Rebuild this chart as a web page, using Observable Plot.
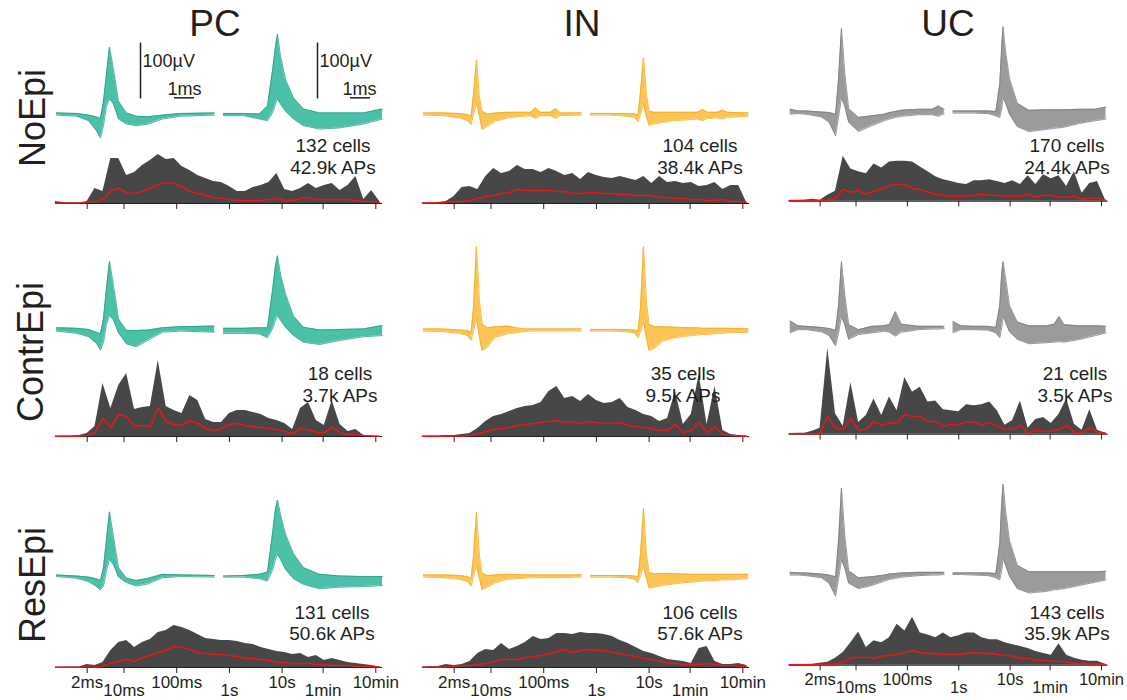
<!DOCTYPE html>
<html><head><meta charset="utf-8">
<script src="https://cdn.jsdelivr.net/npm/d3@7"></script>
<script src="https://cdn.jsdelivr.net/npm/@observablehq/plot@0.6"></script>
<style>
body{margin:0;background:#fff;font-family:"Liberation Sans",Arial,sans-serif}
#root{position:relative;width:1127px;height:700px;overflow:hidden}
.abs{position:absolute}
</style></head><body><div id="root"></div>
<script>
// ---------------- DATA ----------------
const cellTypes = ["PC", "IN", "UC"];
const conditions = ["NoEpi", "ContrEpi", "ResEpi"];
const cellCounts = [[132, 104, 170], [18, 35, 21], [131, 106, 143]];
const apCounts = [["42.9k", "38.4k", "24.4k"], ["3.7k", "9.5k", "3.5k"], ["50.6k", "57.6k", "35.9k"]];

// ISI histogram bins (log10 seconds)
const isiBins = [-3.3, -3.15, -3.0, -2.85, -2.7, -2.55, -2.4, -2.25, -2.1, -1.95, -1.8, -1.65, -1.5, -1.35, -1.2, -1.05, -0.9, -0.75, -0.6, -0.45, -0.3, -0.15, 0, 0.15, 0.3, 0.45, 0.6, 0.75, 0.9, 1.05, 1.2, 1.35, 1.5, 1.65, 1.8, 1.95, 2.1, 2.25, 2.4, 2.55, 2.7, 2.85];
const isiTicks = [0.002, 0.01, 0.1, 1, 10, 60, 600];
const isiTickLabels = ["2ms", "10ms", "100ms", "1s", "10s", "1min", "10min"];
const isiTickLevel = [0, 1, 0, 1, 0, 1, 0];

const isiAll_NoEpi_PC = [2,1,0.5,0.5,2, 15,12,45,45,28, 31,38,43,49,44, 45,37,33,28,25, 22,21,17,12,12, 16,18,21,30,14, 12,15,20,15,18, 20,13,18,27,4, 13,2];
const isiRed_NoEpi_PC = [0.5,0.5,0.5,0.5,1, 2,4,13,15,11, 10,12,15,19,21, 20,17,12,10,8, 6,5,4,3,3, 3,3,4,5,3, 3,5,6,4,4, 4,4,4,3,2, 2,1];
const isiAll_NoEpi_IN = [0.5,0.5,1,2,7, 16,17,14,27,35, 30,32,38,34,34, 31,35,32,28,30, 24,31,28,26,25, 27,25,23,27,20, 27,21,22,20,21, 17,18,21,14,18, 18,1];
const isiRed_NoEpi_IN = [0.5,0.5,0.5,1,2, 2,3,5,7,8, 10,11,14,13,13, 13,13,12,12,10, 10,11,11,10,10, 9,9,8,8,8, 6,6,5,5,4, 4,3,3,4,2, 2,1];
const isiAll_NoEpi_UC = [0.5,0.5,1,2,1, 6,10,46,33,30, 28,38,34,40,41, 41,40,35,30,25, 22,20,18,17,21, 21,22,20,18,21, 17,26,17,27,23, 26,15,30,8,18, 20,2];
const isiRed_NoEpi_UC = [0.5,0.5,0.5,0.5,0.5, 1,3,12,9,11, 7,10,13,16,17, 17,13,12,9,7, 6,5,5,5,6, 7,6,6,5,5, 5,7,4,6,6, 4,4,5,2,3, 3,1];
const isiAll_ContrEpi_PC = [0.3,0.5,0.5,1,3, 10,53,28,51,63, 27,29,30,76,30, 26,23,41,36,17, 14,14,23,26,26, 24,22,18,16,13, 7,28,34,16,11, 36,12,5,7,1, 0.5,0.3];
const isiRed_ContrEpi_PC = [0.3,0.3,0.3,0.3,1, 4,18,9,22,20, 10,11,10,29,15, 12,11,16,13,8, 6,8,12,13,11, 10,9,8,7,5, 3,8,7,4,4, 9,4,2,2,1, 0.5,0.3];
const isiAll_ContrEpi_IN = [0.3,0.5,0.5,1,1, 2,3,8,15,20, 22,25,28,30,31, 34,45,50,38,40, 35,42,36,33,34, 38,29,26,22,20, 15,18,45,12,22, 62,12,50,6,2, 1,0.5];
const isiRed_ContrEpi_IN = [0.3,0.3,0.3,0.3,0.5, 0.5,1,3,5,7, 8,9,11,12,13, 14,15,16,14,15, 13,15,14,13,13, 14,11,10,9,8, 6,6,12,4,6, 14,4,10,2,1, 0.5,0.3];
const isiAll_ContrEpi_UC = [0.5,1,1,3,6, 88,21,8,53,12, 19,36,19,38,24, 58,43,48,33,34, 25,24,23,30,29, 30,33,24,9,14, 34,6,15,17,11, 20,36,10,4,25, 4,1];
const isiRed_ContrEpi_UC = [0.3,0.3,0.3,0.5,1, 18,6,5,16,4, 5,13,9,11,12, 20,18,18,13,13, 8,10,9,13,12, 9,12,8,5,5, 9,1,4,3,3, 5,9,2,1,7, 2,1];
const isiAll_ResEpi_PC = [0.3,0.5,0.5,0.5,3, 2,5,17,25,27, 20,25,28,35,37, 42,40,37,33,29, 28,27,27,26,24, 23,20,18,16,15, 13,14,10,12,7, 9,7,5,4,3, 2,0.5];
const isiRed_ResEpi_PC = [0.3,0.3,0.3,0.3,0.5, 0.5,1,4,6,8, 6,10,12,15,17, 21,20,18,15,14, 13,13,12,11,9, 9,8,7,5,5, 4,4,4,3,3, 2,2,2,1,1, 1,0.5];
const isiAll_ResEpi_IN = [0.5,1,1,3,2, 3,6,14,18,17, 24,18,21,25,31, 28,29,34,34,33, 35,34,34,33,31, 27,24,20,16,14, 11,8,7,6,4, 19,21,6,3,3, 4,2];
const isiRed_ResEpi_IN = [0.3,0.3,0.3,0.5,1, 2,2,3,4,6, 8,8,8,10,11, 12,14,16,18,15, 17,18,17,17,15, 14,12,11,9,8, 6,5,4,3,3, 3,4,3,2,2, 1,1];
const isiAll_ResEpi_UC = [0.3,0.5,0.5,1,2, 3,7,13,23,34, 18,25,23,28,42, 35,49,33,31,28, 33,28,30,33,33, 28,26,26,23,21, 19,17,14,12,10, 22,10,7,5,4, 4,1];
const isiRed_ResEpi_UC = [0.3,0.3,0.3,0.3,0.3, 0.5,1,3,7,8, 8,7,9,10,11, 13,15,13,12,12, 11,11,11,12,13, 12,12,11,10,9, 7,7,5,5,4, 4,3,2,2,1, 1,0.5];

// Waveform envelopes (ms, µV): channel A (left) and channel B (right)
const channelBOffset = 8.35; // ms
const wfTimeA_PC = [0, 1.0, 1.6, 2.0, 2.2, 2.35, 2.5, 2.65, 2.85, 3.1, 3.5, 4.0, 4.6, 5.3, 6.2, 7.9];
const wfTimeB_PC = [0, 1.0, 1.8, 2.2, 2.45, 2.6, 2.7, 2.85, 3.1, 3.5, 4.0, 4.8, 5.8, 7.0, 7.95];
const wfTimeA_IN = [0, 1.0, 1.8, 2.2, 2.38, 2.5, 2.65, 2.8, 2.93, 3.2, 3.6, 4.2, 5.0, 5.35, 5.6, 5.85, 6.35, 6.6, 6.85, 7.9];
const wfTimeB_IN = [0, 1.0, 1.8, 2.2, 2.38, 2.5, 2.65, 2.8, 2.93, 3.2, 3.6, 4.2, 5.0, 5.35, 5.6, 5.85, 6.35, 6.6, 6.85, 7.9];
const wfTimeA_UC = [0, 0.4, 0.8, 1.6, 2.0, 2.33, 2.48, 2.63, 2.8, 3.0, 3.5, 4.2, 4.83, 5.1, 5.4, 5.7, 6.6, 7.3, 7.6, 7.9];
const wfTimeB_UC = [0, 0.4, 1.0, 1.8, 2.2, 2.4, 2.5, 2.57, 2.7, 2.9, 3.3, 3.9, 4.8, 5.2, 5.45, 5.7, 6.5, 7.3, 7.85];

const wfHiA_NoEpi_PC = [2, 1, -2, -5, -8, 23, 71, 120, 80, 23, 2, -4, -5, -2, 1, 2];
const wfLoA_NoEpi_PC = [-2, -4, -12, -30, -43, -21, 14, 27, 18, -9, -18, -21, -18, -9, -4, -2];
const wfHiB_NoEpi_PC = [1, 1, 0, 14, 77, 121, 143, 104, 62, 29, 9, 2, 2, 2, 9];
const wfLoB_NoEpi_PC = [-3, -3, -9, -12, 2, 18, 27, 18, 5, -9, -21, -27, -25, -18, -9];
const wfHiA_ContrEpi_PC = [4, 3, 1, -4, -7, 20, 75, 123, 80, 20, -1, -1, 0, 4, 6, 7];
const wfLoA_ContrEpi_PC = [-2, -6, -12, -24, -36, -22, 10, 26, 18, -5, -25, -30, -18, -4, -2, -4];
const wfHiB_ContrEpi_PC = [3, 3, 4, 4, 70, 115, 133, 100, 65, 25, 5, 0, 1, 2, 8];
const wfLoB_ContrEpi_PC = [-6, -6, -7, -14, 2, 18, 26, 18, 5, -10, -22, -26, -19, -12, -10];
const wfHiA_ResEpi_PC = [2, 0, -2, -5, -8, 15, 65, 115, 70, 15, -4, -8, -4, 3, 2, 1];
const wfLoA_ResEpi_PC = [-1, -4, -10, -19, -25, -18, 10, 30, 20, -2, -12, -18, -14, -3, -1, -2];
const wfHiB_ResEpi_PC = [0, 1, 3, 7, 75, 120, 136, 110, 75, 40, 15, 3, 0, -1, -1];
const wfLoB_ResEpi_PC = [-2, -2, -5, -9, 10, 30, 39, 30, 12, -5, -15, -23, -20, -19, -17];

const wfHiA_NoEpi_IN = [2, 2, 1, -1, -4, 35, 97, 29, 5, 0, 2, 3, 3, 3, 11, 3, 3, 10, 2, 2];
const wfLoA_NoEpi_IN = [-2, -3, -7, -12, -19, -1, 20, -4, -28, -22, -13, -7, -4, -3, -8, -3, -3, -8, -3, -2];
const wfHiB_NoEpi_IN = [1, 1, 1, 0, -2, 40, 101, 35, 5, 3, 3, 3, 3, 3, 8, 3, 3, 7, 3, 2];
const wfLoB_NoEpi_IN = [-2, -2, -4, -6, -14, 0, 18, -5, -20, -18, -15, -12, -10, -9, -12, -8, -7, -9, -6, -4];
const wfHiA_ContrEpi_IN = [2, 2, 0, -1, -4, 40, 150, 52, 11, 4, 6, 7, 2, 2, 2, 2, 2, 2, 2, 2];
const wfLoA_ContrEpi_IN = [-2, -3, -6, -10, -18, -1, 20, -13, -37, -31, -13, -7, -3, -2, -2, -2, -2, -2, -2, -2];
const wfHiB_ContrEpi_IN = [1, 1, 1, 0, -2, 40, 150, 50, 10, 6, 6, 5, 4, 4, 3, 3, 3, 3, 3, 2];
const wfLoB_ContrEpi_IN = [-2, -2, -3, -5, -14, -4, 15, -15, -37, -33, -20, -14, -10, -9, -8, -8, -6, -6, -5, -4];
const wfHiA_ResEpi_IN = [2, 2, 1, -1, -4, 35, 114, 35, 5, 1, 2, 3, 2, 2, 2, 2, 2, 2, 2, 2];
const wfLoA_ResEpi_IN = [-2, -3, -6, -10, -18, -1, 18, -5, -25, -20, -12, -6, -4, -3, -3, -3, -3, -3, -3, -2];
const wfHiB_ResEpi_IN = [1, 1, 1, 0, -2, 40, 121, 40, 6, 4, 4, 4, 3, 3, 3, 3, 3, 3, 3, 3];
const wfLoB_ResEpi_IN = [-2, -2, -3, -6, -12, 0, 18, -5, -22, -20, -17, -14, -11, -10, -9, -9, -8, -7, -7, -5];

const wfHiA_NoEpi_UC = [4, 1, 1, -1, -2, -5, 60, 153, 70, 5, -11, -8, -5, -2, 0, 2, 4, 4, 10, 4];
const wfLoA_NoEpi_UC = [-5, -4, -5, -10, -20, -45, -10, 25, 10, -20, -37, -26, -17, -14, -11, -9, -6, -6, -9, -4];
const wfHiB_NoEpi_UC = [1, 1, 1, 1, 0, 50, 120, 156, 110, 60, 15, 2, 3, 3, 3, 3, 4, 4, 8];
const wfLoB_NoEpi_UC = [-3, -3, -3, -4, -8, -11, 5, 25, 15, -5, -28, -37, -33, -31, -30, -29, -22, -17, -14];
const wfHiA_ContrEpi_UC = [12, 3, 2, 0, -2, -5, 40, 121, 60, 5, -4, 2, 3, 6, 29, 6, 2, 2, 2, 2];
const wfLoA_ContrEpi_UC = [-10, -4, -4, -8, -15, -34, -10, 20, 5, -22, -13, -10, -7, -9, -16, -9, -4, -3, -3, -2];
const wfHiB_ContrEpi_UC = [11, 3, 2, 2, 0, 40, 100, 121, 90, 40, 10, 3, 3, 6, 20, 5, 3, 3, 2];
const wfLoB_ContrEpi_UC = [-10, -4, -4, -5, -10, -19, 0, 20, 10, -8, -22, -30, -28, -27, -26, -27, -22, -15, -10];
const wfHiA_ResEpi_UC = [2, 1, 1, -1, -3, -6, 60, 157, 70, 5, -8, -6, -3, -1, 0, 1, 2, 2, 2, 2];
const wfLoA_ResEpi_UC = [-3, -3, -4, -8, -18, -42, -10, 25, 10, -18, -28, -22, -14, -11, -9, -7, -4, -3, -3, -2];
const wfHiB_ResEpi_UC = [1, 1, 1, 1, 0, 55, 130, 164, 115, 60, 15, 3, 3, 3, 3, 3, 3, 3, 4];
const wfLoB_ResEpi_UC = [-2, -2, -3, -4, -8, -12, 5, 28, 15, -5, -28, -36, -33, -30, -29, -28, -22, -16, -12];

// scale bars (PC / NoEpi): vertical 100 µV, horizontal 1 ms
const scaleBars = [
  {t: 4.2, v0: 27, v1: 127, h0: 5.9, h1: 6.9, hv: 29, labelT: 4.3, labelV: 95, msT: 7.25, msV: 45},
  {t: 13.05, v0: 27, v1: 127, h0: 14.7, h1: 15.7, hv: 29, labelT: 13.15, labelV: 95, msT: 16.0, msV: 45}
];

// ---------------- TABLES ----------------
const isiTable = {
  NoEpi: {PC: [isiAll_NoEpi_PC, isiRed_NoEpi_PC], IN: [isiAll_NoEpi_IN, isiRed_NoEpi_IN], UC: [isiAll_NoEpi_UC, isiRed_NoEpi_UC]},
  ContrEpi: {PC: [isiAll_ContrEpi_PC, isiRed_ContrEpi_PC], IN: [isiAll_ContrEpi_IN, isiRed_ContrEpi_IN], UC: [isiAll_ContrEpi_UC, isiRed_ContrEpi_UC]},
  ResEpi: {PC: [isiAll_ResEpi_PC, isiRed_ResEpi_PC], IN: [isiAll_ResEpi_IN, isiRed_ResEpi_IN], UC: [isiAll_ResEpi_UC, isiRed_ResEpi_UC]}
};
const wfTime = {PC: [wfTimeA_PC, wfTimeB_PC], IN: [wfTimeA_IN, wfTimeB_IN], UC: [wfTimeA_UC, wfTimeB_UC]};
const wfTable = {
  NoEpi: {PC: [wfHiA_NoEpi_PC, wfLoA_NoEpi_PC, wfHiB_NoEpi_PC, wfLoB_NoEpi_PC], IN: [wfHiA_NoEpi_IN, wfLoA_NoEpi_IN, wfHiB_NoEpi_IN, wfLoB_NoEpi_IN], UC: [wfHiA_NoEpi_UC, wfLoA_NoEpi_UC, wfHiB_NoEpi_UC, wfLoB_NoEpi_UC]},
  ContrEpi: {PC: [wfHiA_ContrEpi_PC, wfLoA_ContrEpi_PC, wfHiB_ContrEpi_PC, wfLoB_ContrEpi_PC], IN: [wfHiA_ContrEpi_IN, wfLoA_ContrEpi_IN, wfHiB_ContrEpi_IN, wfLoB_ContrEpi_IN], UC: [wfHiA_ContrEpi_UC, wfLoA_ContrEpi_UC, wfHiB_ContrEpi_UC, wfLoB_ContrEpi_UC]},
  ResEpi: {PC: [wfHiA_ResEpi_PC, wfLoA_ResEpi_PC, wfHiB_ResEpi_PC, wfLoB_ResEpi_PC], IN: [wfHiA_ResEpi_IN, wfLoA_ResEpi_IN, wfHiB_ResEpi_IN, wfLoB_ResEpi_IN], UC: [wfHiA_ResEpi_UC, wfLoA_ResEpi_UC, wfHiB_ResEpi_UC, wfLoB_ResEpi_UC]}
};

// ---------------- STYLE / LAYOUT ----------------
const FONT = "'Liberation Sans', Arial, Helvetica, sans-serif";
const TXT = "#231f20";
const fillColor = {PC: "#3bbba2", IN: "#fbbf45", UC: "#939393"};
const edgeColor = {PC: "#2a9e87", IN: "#f0ab22", UC: "#7a7a7a"};
const colX0 = [55, 422, 789];
const histBase = [203, 436, 667];
const wfBase = [113, 329, 575];
const countDx = [[278, 278, 278], [285, 261, 286], [277, 278, 278]];
const countDy = [[-58, -36], [-63, -41], [-55, -34]];
const ML = 10, MR = 20, PW = 327;

const root = document.getElementById("root");
function place(node, left, top) {
  const d = document.createElement("div");
  d.className = "abs";
  d.style.left = left + "px"; d.style.top = top + "px";
  d.appendChild(node); root.appendChild(d);
}
function addText(txt, x, y, size, rotate) {
  const d = document.createElement("div");
  d.textContent = txt;
  d.style.cssText = `position:absolute;left:${x}px;top:${y}px;font-size:${size}px;line-height:1;white-space:nowrap;color:${TXT};font-family:${FONT};transform:translate(-50%,-50%)${rotate ? " rotate(-90deg)" : ""}`;
  root.appendChild(d);
}

const WF_H = 134, WF_DOM = [-60, 180];
function waveformPlot(r, c) {
  const type = cellTypes[c], cond = conditions[r];
  const [hiA, loA, hiB, loB] = wfTable[cond][type];
  const [tA, tB] = wfTime[type];
  const rows = [];
  tA.forEach((t, i) => rows.push({ch: "A", t, hi: hiA[i], lo: loA[i]}));
  tB.forEach((t, i) => rows.push({ch: "B", t: t + channelBOffset, hi: hiB[i], lo: loB[i]}));
  const marks = [
    Plot.areaY(rows, {x: "t", y1: "lo", y2: "hi", z: "ch", fill: fillColor[type], fillOpacity: 0.92}),
    Plot.lineY(rows, {x: "t", y: "hi", z: "ch", stroke: edgeColor[type], strokeWidth: 0.8}),
    Plot.lineY(rows, {x: "t", y: "lo", z: "ch", stroke: edgeColor[type], strokeWidth: 0.8})
  ];
  if (r === 0 && c === 0) {
    marks.push(
      Plot.ruleX(scaleBars, {x: "t", y1: "v0", y2: "v1", stroke: TXT, strokeWidth: 1.5}),
      Plot.ruleY(scaleBars, {y: "hv", x1: "h0", x2: "h1", stroke: TXT, strokeWidth: 1.5}),
      Plot.text(scaleBars, {x: "labelT", y: "labelV", text: () => "100µV", textAnchor: "start", fontSize: 18, fill: TXT}),
      Plot.text(scaleBars, {x: "msT", y: "msV", text: () => "1ms", textAnchor: "end", fontSize: 18, fill: TXT})
    );
  }
  return Plot.plot({
    width: PW + ML + MR, height: WF_H,
    marginLeft: ML, marginRight: MR, marginTop: 0, marginBottom: 0,
    x: {domain: [-0.05, 16.3], axis: null},
    y: {domain: WF_DOM, axis: null},
    style: {background: "transparent", overflow: "visible", fontFamily: FONT},
    marks
  });
}

const H_H = 90, H_MT = 5, H_MB = 32;
const tickData = isiTicks.map((v, i) => ({pos: Math.log10(v), label: isiTickLabels[i], level: isiTickLevel[i]}));
function histPlot(r, c) {
  const type = cellTypes[c], cond = conditions[r];
  const [all, red] = isiTable[cond][type];
  const data = isiBins.map((b, i) => ({b, all: all[i], red: red[i]}));
  const marks = [
    Plot.areaY(data, {x: "b", y: "all", fill: "#474747"}),
    Plot.ruleY([0], {stroke: TXT, strokeWidth: 1.2}),
    Plot.lineY(data, {x: "b", y: "red", stroke: "#e5191d", strokeWidth: 1.6})
  ];
  if (r === 2) {
    marks.push(
      Plot.text(tickData.filter(d => d.level === 0), {x: "pos", text: "label", frameAnchor: "bottom", lineAnchor: "middle", dy: 15, fontSize: 17, fill: TXT}),
      Plot.text(tickData.filter(d => d.level === 1), {x: "pos", text: "label", frameAnchor: "bottom", lineAnchor: "middle", dy: 23, fontSize: 17, fill: TXT})
    );
  }
  return Plot.plot({
    width: PW + ML + MR, height: H_H + H_MT + H_MB,
    marginLeft: ML, marginRight: MR, marginTop: H_MT, marginBottom: H_MB,
    x: {domain: [-3.3, 2.905], ticks: tickData.map(d => d.pos), tickSize: 6, tickFormat: () => "", label: null},
    y: {domain: [0, H_H], axis: null},
    style: {background: "transparent", overflow: "visible", fontFamily: FONT, color: TXT},
    marks
  });
}

for (let r = 0; r < 3; r++) {
  for (let c = 0; c < 3; c++) {
    const x0 = colX0[c];
    place(waveformPlot(r, c), x0 - ML, wfBase[r] - WF_DOM[1] * WF_H / (WF_DOM[1] - WF_DOM[0]));
    place(histPlot(r, c), x0 - ML, histBase[r] - H_H - H_MT);
    addText(cellCounts[r][c] + " cells", x0 + countDx[r][c], histBase[r] + countDy[r][0], 19);
    addText(apCounts[r][c] + " APs", x0 + countDx[r][c], histBase[r] + countDy[r][1], 19);
  }
}
// column titles
[215, 582, 948].forEach((x, i) => addText(cellTypes[i], x, 23, 37));
// row labels
[[33, 118], [31, 352], [33, 585]].forEach(([x, y], i) => addText(conditions[i], x, y, 36, true));
</script></body></html>
